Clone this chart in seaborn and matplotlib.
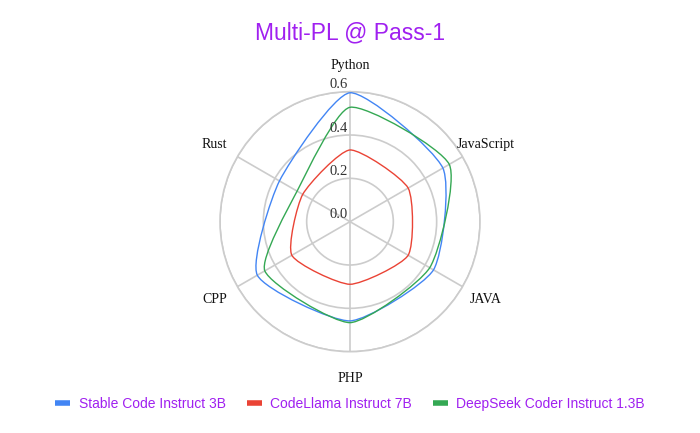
import numpy as np
import pandas as pd
import matplotlib
matplotlib.use('Agg')
import matplotlib.pyplot as plt
from matplotlib.lines import Line2D
from matplotlib.patches import PathPatch
from matplotlib.path import Path
from matplotlib.transforms import offset_copy
import seaborn as sns

languages = ['Python', 'JavaScript', 'JAVA', 'PHP', 'CPP', 'Rust']
models = ['Stable Code Instruct 3B', 'CodeLlama Instruct 7B', 'DeepSeek Coder Instruct 1.3B']
stable_code = [0.595, 0.495, 0.445, 0.458, 0.494, 0.376]
codellama = [0.331, 0.31, 0.31, 0.289, 0.31, 0.252]
deepseek = [0.528, 0.529, 0.425, 0.466, 0.454, 0.282]
r_ticks = [0.0, 0.2, 0.4, 0.6]

colors = ['#4285F4', '#EA4335', '#34A853']
purple = '#a020f0'
grid_c = '#cccccc'
tension = 0.2


def smooth_loop(pts, t):
    """closed cubic bezier through pts, control points like a chart.js radar"""
    n = len(pts)
    cps = []
    for i in range(n):
        prv, cur, nxt = pts[i - 1], pts[i], pts[(i + 1) % n]
        d01 = np.hypot(*(cur - prv))
        d12 = np.hypot(*(nxt - cur))
        s01 = d01 / (d01 + d12)
        s12 = d12 / (d01 + d12)
        cps.append((cur - t * s01 * (nxt - prv), cur + t * s12 * (nxt - prv)))
    verts = [pts[0]]
    codes = [Path.MOVETO]
    for i in range(n):
        j = (i + 1) % n
        verts += [cps[i][1], cps[j][0], pts[j]]
        codes += [Path.CURVE4] * 3
    return Path(verts, codes)


# long table, first point repeated at 2*pi to close each loop
n = len(languages)
theta = list(np.linspace(0, 2 * np.pi, n, endpoint=False)) + [2 * np.pi]
rows = []
for name, vals in zip(models, [stable_code, codellama, deepseek]):
    for t, v in zip(theta, vals + vals[:1]):
        rows.append({'model': name, 'theta': t, 'value': v})
df = pd.DataFrame(rows)

sns.set_style('white')
fig = plt.figure(figsize=(7, 4.33), dpi=100)
ax = fig.add_axes([0.3143, 0.1878, 0.3714, 0.6005], projection='polar')
ax.set_theta_offset(np.pi / 2)
ax.set_theta_direction(-1)
ax.set_ylim(0, 0.6)

sns.lineplot(data=df, x='theta', y='value', hue='model', hue_order=models,
             palette=colors, sort=False, estimator=None, legend=False,
             linewidth=1.0, ax=ax)
ax.set_ylim(0, 0.6)

# swap the straight polygons for slightly rounded ones (tension curve)
to_axes = ax.transData + ax.transAxes.inverted()
for line in list(ax.lines):
    xy = line.get_xydata()[:-1]
    pts = to_axes.transform(xy)
    patch = PathPatch(smooth_loop(pts, tension), transform=ax.transAxes,
                      facecolor='none', edgecolor=line.get_color(),
                      linewidth=line.get_linewidth(), clip_on=False, zorder=3)
    ax.add_patch(patch)
    line.remove()

ax.set_xticks(theta[:-1])
ax.set_xticklabels([])
ax.set_yticks(r_ticks[1:])
ax.set_yticklabels([])
ax.set_xlabel('')
ax.set_ylabel('')
ax.grid(True, color=grid_c, linewidth=1.2)
ax.spines['polar'].set_color(grid_c)
ax.spines['polar'].set_linewidth(1.2)
ax.tick_params(length=0)

# category labels, offsets in pixels from the centre
label_pos = {
    'Python': (0, 155.7, 'center'),
    'JavaScript': (106.7, 77.4, 'left'),
    'JAVA': (120, -77.6, 'left'),
    'PHP': (0, -156.6, 'center'),
    'CPP': (-123.3, -77.6, 'right'),
    'Rust': (-123.3, 77.4, 'right'),
}
for lang in languages:
    dx, dy, ha = label_pos[lang]
    tr = offset_copy(ax.transData, fig=fig, x=dx, y=dy, units='dots')
    ax.text(0, 0, lang, transform=tr, ha=ha, va='center', fontsize=10,
            family='Liberation Serif', color='#111111', clip_on=False)

# radial tick labels sit just above each circle on the Python spoke
for r in r_ticks:
    tr = offset_copy(ax.transData, fig=fig, x=-2, y=7, units='dots')
    ax.text(0, r, '{:.1f}'.format(r), transform=tr, ha='right', va='center',
            fontsize=10.5, family='Liberation Serif', color='#333333',
            clip_on=False, zorder=4)

fig.text(0.5, 1 - 33 / 433, 'Multi-PL @ Pass-1', ha='center', va='center',
         fontsize=16.5, family='Liberation Sans', color=purple)

handles = [Line2D([0], [0], color=c, linewidth=4, solid_capstyle='butt') for c in colors]
leg = fig.legend(handles, models, loc='center', bbox_to_anchor=(0.5, 1 - 404 / 433),
                 ncol=3, frameon=False, handlelength=1.1, handletextpad=0.6,
                 columnspacing=1.5, prop={'family': 'Liberation Sans', 'size': 10})
for txt in leg.get_texts():
    txt.set_color(purple)

fig.savefig('out.png', dpi=100)
